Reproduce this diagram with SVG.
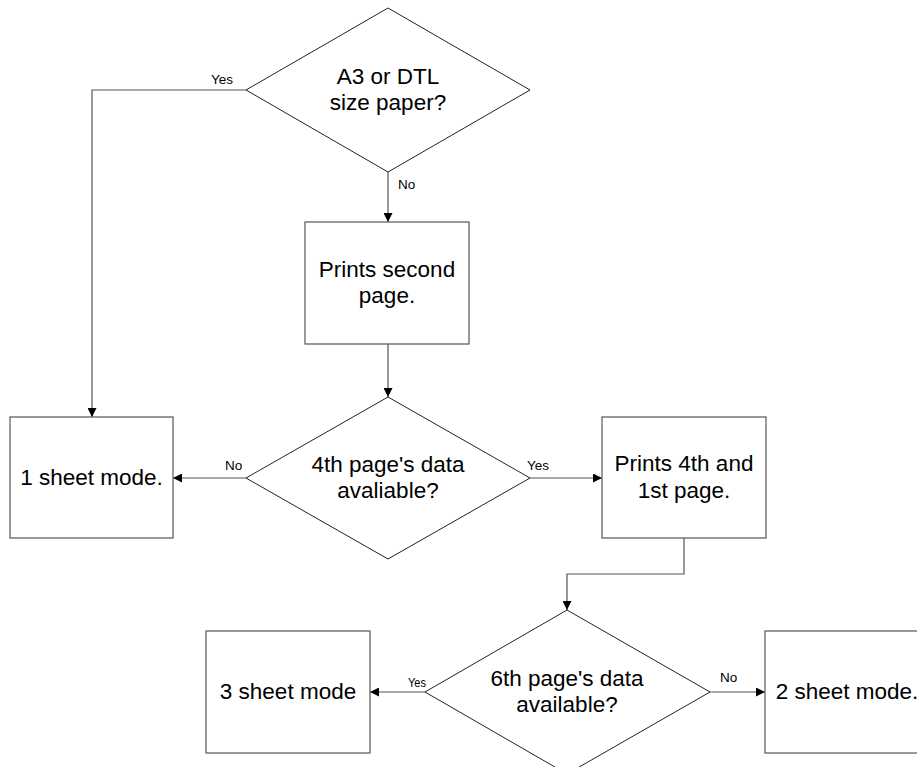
<svg xmlns="http://www.w3.org/2000/svg" width="917" height="767" viewBox="0 0 917 767">
<defs>
<marker id="arr" viewBox="0 0 10 10" refX="10" refY="5" markerWidth="9" markerHeight="9" markerUnits="userSpaceOnUse" orient="auto">
<path d="M0,0 L10,5 L0,10 Z" fill="#000"/>
</marker>
</defs>
<style>
.box{fill:#fff;stroke:#555;stroke-width:1.2}
.dia{fill:#fff;stroke:#222;stroke-width:1}
.t{font-family:"Liberation Sans",Arial,sans-serif;font-size:22.5px;fill:#000;text-anchor:middle}
.l{font-family:"Liberation Sans",Arial,sans-serif;font-size:13.5px;fill:#000}
.c{fill:none;stroke:#555;stroke-width:1.2;marker-end:url(#arr)}
</style>
<rect width="917" height="767" fill="#fff"/>
<g id="connectors">
<polyline class="c" points="246,90 92,90 92,417"/>
<line class="c" x1="388" y1="172" x2="388" y2="222"/>
<line class="c" x1="388" y1="344" x2="388" y2="397"/>
<line class="c" x1="246" y1="478" x2="173" y2="478"/>
<line class="c" x1="530" y1="478" x2="602" y2="478"/>
<polyline class="c" points="684,538 684,574 567,574 567,610"/>
<line class="c" x1="425" y1="692" x2="370" y2="692"/>
<line class="c" x1="710" y1="692" x2="765" y2="692"/>
<text class="l" x="211" y="84">Yes</text>
<text class="l" x="398" y="189">No</text>
<text class="l" x="225" y="470">No</text>
<text class="l" x="527" y="470">Yes</text>
<text class="l" x="408" y="687" textLength="18" lengthAdjust="spacingAndGlyphs">Yes</text>
<text class="l" x="720" y="682">No</text>
</g>
<g id="d1">
<polygon class="dia" points="388,8 530,90 388,172 246,90"/>
<text class="t" x="388" y="84">A3 or DTL</text>
<text class="t" x="388" y="110">size paper?</text>
</g>
<g id="b_second">
<rect class="box" x="305" y="222" width="164" height="122"/>
<text class="t" x="387" y="277">Prints second</text>
<text class="t" x="387" y="303">page.</text>
</g>
<g id="d2">
<polygon class="dia" points="388,397 530,478 388,559 246,478"/>
<text class="t" x="388" y="472">4th page's data</text>
<text class="t" x="388" y="498">avaliable?</text>
</g>
<g id="b_1sheet">
<rect class="box" x="10" y="417" width="163" height="121"/>
<text class="t" x="91.5" y="485">1 sheet mode.</text>
</g>
<g id="b_4th">
<rect class="box" x="602" y="417" width="164" height="121"/>
<text class="t" x="684" y="471">Prints 4th and</text>
<text class="t" x="684" y="498">1st page.</text>
</g>
<g id="d3">
<polygon class="dia" points="567,610 710,692 567,774 425,692"/>
<text class="t" x="567" y="686">6th page's data</text>
<text class="t" x="567" y="712">available?</text>
</g>
<g id="b_3sheet">
<rect class="box" x="206" y="631" width="164" height="122"/>
<text class="t" x="288" y="699">3 sheet mode</text>
</g>
<g id="b_2sheet">
<rect class="box" x="765" y="631" width="164" height="122"/>
<text class="t" x="847" y="699">2 sheet mode.</text>
</g>
</svg>
